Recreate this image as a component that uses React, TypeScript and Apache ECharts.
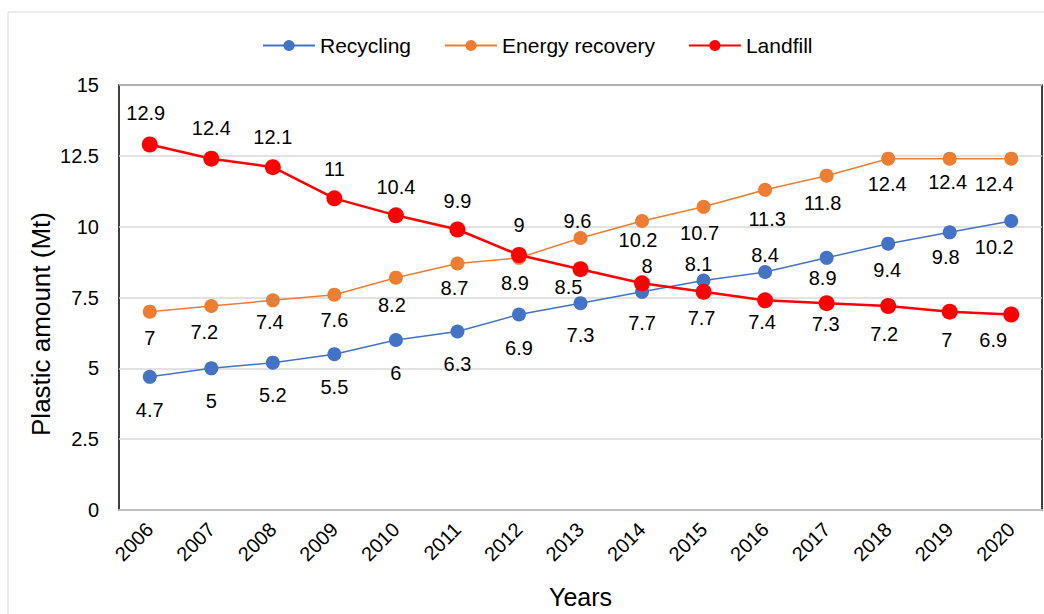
import React, { useEffect, useRef } from "react";
import * as echarts from "echarts";

const years = ["2006","2007","2008","2009","2010","2011","2012","2013","2014","2015","2016","2017","2018","2019","2020"];
const recycling = [4.7, 5, 5.2, 5.5, 6, 6.3, 6.9, 7.3, 7.7, 8.1, 8.4, 8.9, 9.4, 9.8, 10.2];
const energyRecovery = [7, 7.2, 7.4, 7.6, 8.2, 8.7, 8.9, 9.6, 10.2, 10.7, 11.3, 11.8, 12.4, 12.4, 12.4];
const landfill = [12.9, 12.4, 12.1, 11, 10.4, 9.9, 9, 8.5, 8, 7.7, 7.4, 7.3, 7.2, 7, 6.9];

// label placement (offset of label centre from its point), like the original's hand-placed labels
const recyclingLabelOffsets = [[0,33],[0,33],[0,32],[0,33],[0,33],[0,32],[0,33],[0,32],[0,31],[-5,-17],[0,-17],[-4,20],[-1,26],[-4,25],[-17,26]];
const energyLabelOffsets = [[0,26],[-7,26],[-3,22],[0,25],[-4,27],[-3,24],[-4,25],[-3,-17],[-4,19],[-4,26],[2,29],[-4,27],[-1,25],[-2,23],[-17,25]];
const landfillLabelOffsets = [[-4,-32],[0,-31],[0,-30],[0,-29],[0,-28],[0,-29],[0,-30],[-12,18],[5,-17],[-2,26],[-3,22],[-1,21],[-4,28],[-3,28],[-18,25]];

const FONT = "'Liberation Sans', Arial, sans-serif";

function buildSeries(name: string, values: number[], offsets: number[][], color: string, lineWidth: number, symbolSize: number) {
  return {
    name,
    type: "line",
    data: values.map((v, i) => ({
      value: v,
      label: { offset: offsets[i] },
    })),
    symbol: "circle",
    symbolSize,
    itemStyle: { color },
    lineStyle: { color, width: lineWidth },
    label: {
      show: true,
      position: "inside",
      color: "#000",
      fontSize: 20,
      fontFamily: FONT,
    },
    emphasis: { disabled: true },
  };
}

export default function App() {
  const ref = useRef<HTMLDivElement>(null);
  useEffect(() => {
    if (!ref.current) return;
    const chart = echarts.init(ref.current, undefined, { renderer: "svg" });
    chart.setOption({
      animation: false,
      backgroundColor: "#fff",
      textStyle: { fontFamily: FONT },
      legend: {
        left: 262,
        top: 35,
        padding: 0,
        itemWidth: 52,
        itemHeight: 14,
        itemGap: 33,
        textStyle: { fontSize: 21, color: "#000", fontFamily: FONT },
        data: ["Recycling", "Energy recovery", "Landfill"],
      },
      grid: {
        left: 119,
        right: 2,
        top: 85,
        bottom: 104,
        show: true,
        borderColor: "#000",
        borderWidth: 1.5,
        containLabel: false,
      },
      xAxis: {
        type: "category",
        data: years,
        boundaryGap: true,
        name: "Years",
        nameLocation: "middle",
        nameGap: 74,
        nameTextStyle: { fontSize: 25, color: "#000", fontFamily: FONT },
        axisLine: { show: true, lineStyle: { color: "#bfbfbf", width: 2 } },
        axisTick: { show: false },
        axisLabel: { rotate: 45, fontSize: 20, color: "#000", margin: 16, fontFamily: FONT },
        splitLine: { show: false },
      },
      yAxis: {
        type: "value",
        min: 0,
        max: 15,
        interval: 2.5,
        axisLine: { show: false },
        axisTick: { show: false },
        axisLabel: { fontSize: 20, color: "#000", margin: 20, fontFamily: FONT },
        splitLine: { show: true, lineStyle: { color: "#d9d9d9", width: 1.5 } },
      },
      graphic: [
        {
          type: "rect",
          shape: { x: 8, y: 12, width: 1100, height: 700 },
          style: { fill: "none", stroke: "#d9d9d9", lineWidth: 1 },
          silent: true,
          z: -10,
        },
        {
          type: "text",
          x: 41,
          y: 324,
          rotation: Math.PI / 2,
          style: {
            text: "Plastic amount (Mt)",
            fontSize: 26,
            fontFamily: FONT,
            fill: "#000",
            align: "center",
            verticalAlign: "middle",
          },
        },
      ],
      series: [
        buildSeries("Recycling", recycling, recyclingLabelOffsets, "#4472C4", 1.5, 14),
        buildSeries("Energy recovery", energyRecovery, energyLabelOffsets, "#ED7D31", 1.5, 14),
        buildSeries("Landfill", landfill, landfillLabelOffsets, "#FF0000", 2.5, 16),
      ],
    });
    return () => chart.dispose();
  }, []);
  return (
    <div
      ref={ref}
      style={{ position: "absolute", left: 0, top: 0, width: 1044, height: 614 }}
    />
  );
}
